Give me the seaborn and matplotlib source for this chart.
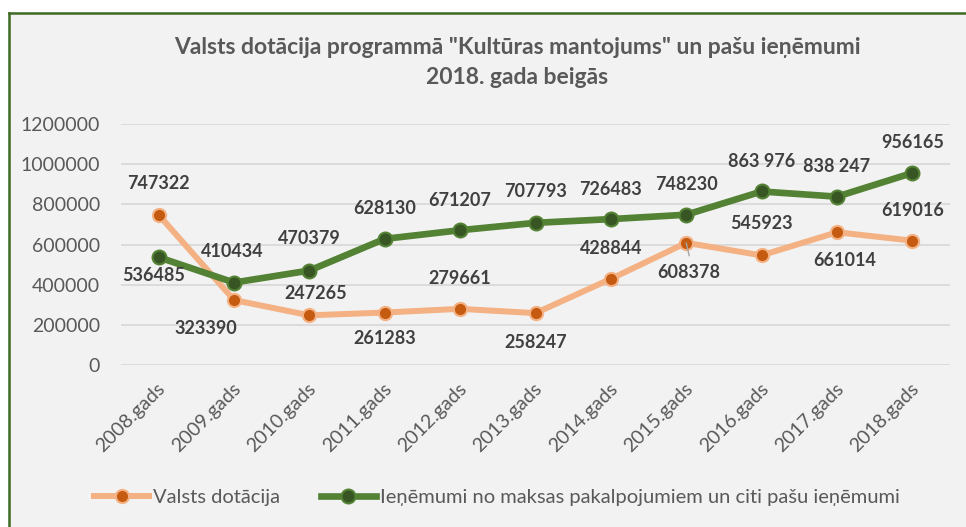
import matplotlib
matplotlib.use("Agg")
import matplotlib.pyplot as plt
import matplotlib.transforms as mtransforms
from matplotlib.patches import Rectangle
from matplotlib.lines import Line2D
import seaborn as sns
import pandas as pd

# ---------------- data ----------------
years = ["2008.gads", "2009.gads", "2010.gads", "2011.gads", "2012.gads", "2013.gads",
         "2014.gads", "2015.gads", "2016.gads", "2017.gads", "2018.gads"]
valsts = [747322, 323390, 247265, 261283, 279661, 258247, 428844, 608378, 545923, 661014, 619016]
ienem = [536485, 410434, 470379, 628130, 671207, 707793, 726483, 748230, 863976, 838247, 956165]
valsts_labels = ["747322", "323390", "247265", "261283", "279661", "258247",
                 "428844", "608378", "545923", "661014", "619016"]
ienem_labels = ["536485", "410434", "470379", "628130", "671207", "707793",
                "726483", "748230", "863 976", "838 247", "956165"]
yticks = [0, 200000, 400000, 600000, 800000, 1000000, 1200000]
title_lines = ['Valsts dotācija programmā "Kultūras mantojums" un pašu ieņēmumi',
               '2018. gada beigās']
series_names = ["Valsts dotācija",
                "Ieņēmumi no maksas pakalpojumiem un citi pašu ieņēmumi"]

# label offsets (pixels, +y = up)
valsts_off = [(0, 31), (-28, -28), (6, 22), (0, -26), (0, 30), (0, -29),
              (0, 30), (3, -30), (0, 32), (8, -28), (0, 30)]
ienem_off = [(-5, -18), (-2, 31), (0, 32), (0, 30), (0, 30), (0, 31),
             (0, 30), (0, 30), (0, 30), (0, 30), (0, 30)]

# ---------------- style ----------------
plt.rcParams['font.family'] = ['Lato', 'DejaVu Sans']
BG = "#F2F2F2"
GRID = "#D9D9D9"
TXT = "#595959"
LBL = "#404040"
OR_LINE, OR_FACE = "#F4B183", "#C55A11"
GR_LINE, GR_FACE = "#548235", "#375623"

W, H = 966, 527
fig = plt.figure(figsize=(W / 100, H / 100), dpi=100)
fig.patch.set_facecolor("white")
fig.add_artist(Rectangle((8 / W, 0), 1 - 8 / W, 1 - 12 / H, transform=fig.transFigure,
                         facecolor=BG, edgecolor="none", zorder=-10))
fig.add_artist(Line2D([8.5 / W, 8.5 / W], [0, 1 - 12.5 / H], transform=fig.transFigure,
                      color="#3F6B24", lw=1.8))
fig.add_artist(Line2D([8.5 / W, 1], [1 - 12.5 / H, 1 - 12.5 / H], transform=fig.transFigure,
                      color="#3F6B24", lw=1.8))

left, right = 121 / W, 950 / W
bottom, top = 1 - 365 / H, 1 - 124 / H
ax = fig.add_axes([left, bottom, right - left, top - bottom])
ax.set_facecolor("none")

df = pd.DataFrame({"year": years, "valsts": valsts, "ienem": ienem})

sns.lineplot(data=df, x="year", y="valsts", ax=ax, color=OR_LINE, lw=4.3,
             marker="o", markersize=9.5, markerfacecolor=OR_FACE,
             markeredgecolor=OR_LINE, markeredgewidth=1.5, label=series_names[0],
             sort=False, zorder=3)
sns.lineplot(data=df, x="year", y="ienem", ax=ax, color=GR_LINE, lw=4.8,
             marker="o", markersize=10, markerfacecolor=GR_FACE,
             markeredgecolor=GR_LINE, markeredgewidth=1.5, label=series_names[1],
             sort=False, zorder=4)

plt.rcParams['font.family'] = ['Lato', 'DejaVu Sans']

ax.set_xlim(-0.5, len(years) - 0.5)
ax.set_ylim(0, 1200000)
ax.set_yticks(yticks)
ax.set_yticklabels([str(v) for v in yticks])
ax.set_xticks(range(len(years)))
ax.set_xticklabels(years)
ax.set_xlabel("")
ax.set_ylabel("")
ax.grid(axis="y", color=GRID, lw=1.3, zorder=0)
ax.set_axisbelow(True)
for s in ax.spines.values():
    s.set_visible(False)
ax.tick_params(axis="both", length=0, colors=TXT)
ax.tick_params(axis="y", pad=15, labelsize=14)
ax.tick_params(axis="x", pad=11, labelsize=14)
for lab in ax.get_xticklabels():
    lab.set_rotation(45)
    lab.set_ha("right")
    lab.set_va("top")
    lab.set_rotation_mode("anchor")
    lab.set_transform(lab.get_transform() +
                      mtransforms.ScaledTranslation(-2 / 100, 0, fig.dpi_scale_trans))

# data labels
for i, (v, t, (dx, dy)) in enumerate(zip(valsts, valsts_labels, valsts_off)):
    ax.annotate(t, (i, v), xytext=(dx, dy), textcoords="offset pixels",
                ha="center", va="center", fontsize=13, fontweight="bold",
                color=LBL, zorder=6)
for i, (v, t, (dx, dy)) in enumerate(zip(ienem, ienem_labels, ienem_off)):
    ax.annotate(t, (i, v), xytext=(dx, dy), textcoords="offset pixels",
                ha="center", va="center", fontsize=13, fontweight="bold",
                color=LBL, zorder=6)
# leader line for 2015 label
ax.annotate("", xy=(7, valsts[7]), xytext=(3, -13), textcoords="offset pixels",
            arrowprops=dict(arrowstyle="-", color="#A6A6A6", lw=1,
                            shrinkA=0, shrinkB=0), zorder=7)

# title
fig.text(517 / W, 1 - 48 / H, title_lines[0], ha="center", va="center",
         fontsize=16.5, fontweight="bold", color=TXT)
fig.text(517 / W, 1 - 77 / H, title_lines[1], ha="center", va="center",
         fontsize=16.5, fontweight="bold", color=TXT)

# legend
ax.legend(loc="center", bbox_to_anchor=(497 / W, 1 - 497 / H),
          bbox_transform=fig.transFigure, ncol=2, frameon=False,
          fontsize=14.5, labelcolor=TXT, handlelength=2.75, handletextpad=0.2,
          columnspacing=2.0)

fig.savefig("out.png", dpi=100, facecolor=fig.get_facecolor())
